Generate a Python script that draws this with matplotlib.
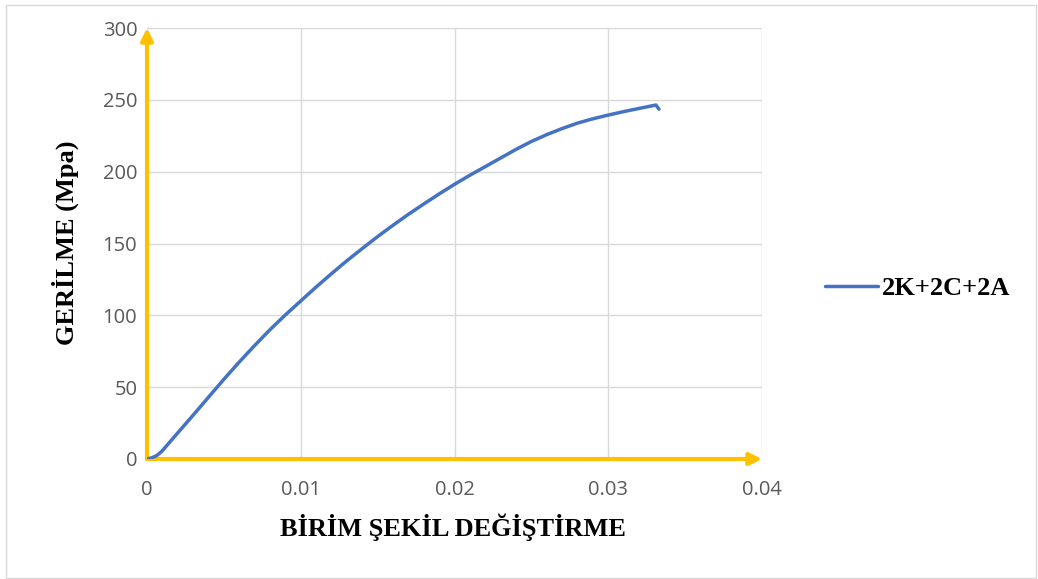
import matplotlib
matplotlib.use("Agg")
import matplotlib.pyplot as plt
from matplotlib.patches import Rectangle

# Data
strain = [0.0, 0.0003, 0.0006, 0.0008, 0.0010, 0.0015, 0.0020, 0.0030, 0.0040, 0.0050,
          0.0060, 0.0070, 0.0080, 0.0090, 0.0100, 0.0110, 0.0120, 0.0130,
          0.0140, 0.0150, 0.0160, 0.0170, 0.0180, 0.0190, 0.0200, 0.0210,
          0.0220, 0.0230, 0.0240, 0.0250, 0.0260, 0.0270, 0.0280, 0.0290,
          0.0300, 0.0310, 0.0320, 0.0331, 0.0333]
stress = [0.0, 0.8, 2.2, 3.8, 5.8, 12.0, 18.2, 30.5, 43.0, 55.5,
          67.5, 79.0, 90.0, 100.3, 110.0, 119.7, 129.0, 138.0,
          146.5, 154.8, 162.7, 170.3, 177.5, 184.5, 191.2, 197.5,
          203.5, 209.5, 215.5, 221.0, 225.8, 230.0, 233.8, 236.8,
          239.4, 241.8, 244.0, 246.4, 243.5]
series_name = "2K+2C+2A"
x_ticks = [0, 0.01, 0.02, 0.03, 0.04]
x_tick_labels = ["0", "0.01", "0.02", "0.03", "0.04"]
y_ticks = [0, 50, 100, 150, 200, 250, 300]
x_label = "BİRİM ŞEKİL DEĞİŞTİRME"
y_label = "GERİLME (Mpa)"

W, H = 1038, 579
fig = plt.figure(figsize=(W / 100, H / 100), dpi=100)
fig.patch.set_facecolor("white")

# figure border
fig.add_artist(Rectangle((6 / W, 1 / H), (1036 - 6) / W, (574 - 1) / H,
                         transform=fig.transFigure, fill=False,
                         edgecolor="#d9d9d9", lw=1))

left, right, top, bottom = 147, 762, 28, 459
ax = fig.add_axes([left / W, (H - bottom) / H, (right - left) / W, (bottom - top) / H])
ax.set_xlim(0, 0.04)
ax.set_ylim(0, 300)
for s in ax.spines.values():
    s.set_visible(False)

ax.set_xticks(x_ticks)
ax.set_xticklabels(x_tick_labels)
ax.set_yticks(y_ticks)
ax.tick_params(axis="both", length=0, labelsize=14.5, labelcolor="#595959")
ax.tick_params(axis="x", pad=15)
ax.tick_params(axis="y", pad=7)
for lab in ax.get_xticklabels() + ax.get_yticklabels():
    lab.set_fontfamily("Open Sans")

ax.grid(True, color="#d9d9d9", lw=1)
ax.set_axisbelow(True)

line, = ax.plot(strain, stress, color="#4472C4", lw=2.5, solid_capstyle="round",
                solid_joinstyle="round", label=series_name, zorder=4)

# yellow arrow axes
arrow_kw = dict(arrowstyle="-|>", color="#FFC000", lw=3, mutation_scale=18,
                shrinkA=0, shrinkB=0)
ax.annotate("", xy=(0, 1), xytext=(0, 0), xycoords="axes fraction",
            arrowprops=arrow_kw, annotation_clip=False, zorder=3)
ax.annotate("", xy=(1, 0), xytext=(0, 0), xycoords="axes fraction",
            arrowprops=arrow_kw, annotation_clip=False, zorder=3)

fig.text(453 / W, 1 - 527 / H, x_label, ha="center", va="center",
         fontfamily="Liberation Serif", fontweight="bold", fontsize=19, color="black")
fig.text(65 / W, 1 - 243 / H, y_label, ha="center", va="center", rotation=90,
         fontfamily="Liberation Serif", fontweight="bold", fontsize=19, color="black")

leg = fig.legend(handles=[line], loc="center left", bbox_to_anchor=(825 / W, 1 - 288 / H),
                 frameon=False, handlelength=2.0, handletextpad=0.15,
                 borderpad=0, borderaxespad=0,
                 prop={"family": "Liberation Serif", "weight": "bold", "size": 19})

fig.savefig("out.png", dpi=100)
